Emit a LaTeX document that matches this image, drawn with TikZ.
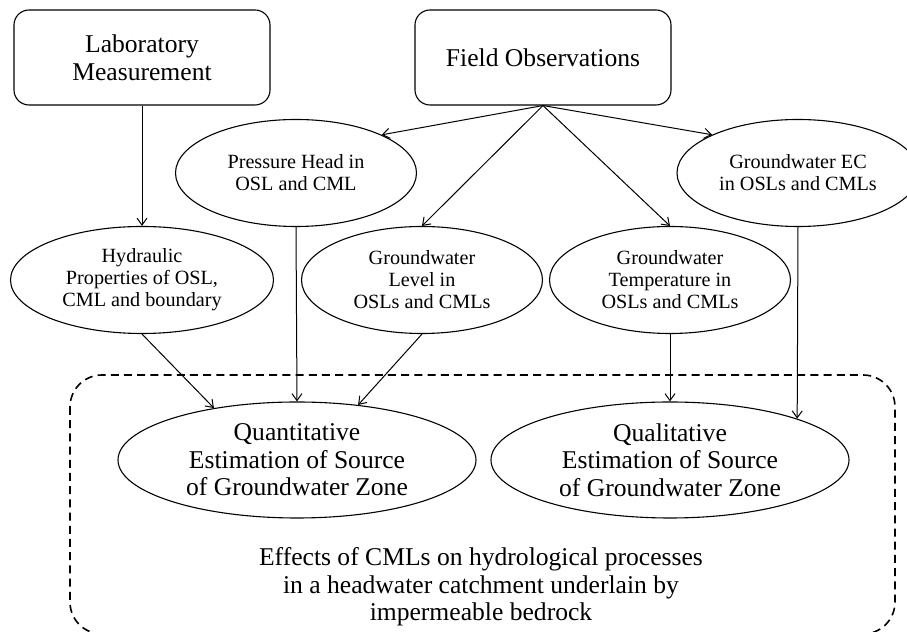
\documentclass[tikz,border=0pt]{standalone}
\usepackage{fontspec}
\setmainfont{Liberation Serif}
\usetikzlibrary{shapes.geometric,arrows.meta}

\begin{document}
\begin{tikzpicture}[x=0.5pt,y=0.5pt,
    box/.style={shape=rectangle,rounded corners=7.5pt,draw=black,line width=0.55pt,
      minimum width=128pt,minimum height=47.5pt,align=center,
      font=\fontsize{12.8}{13.75}\selectfont},
    oval/.style={shape=ellipse,draw=black,line width=0.55pt,inner sep=0pt,align=center,
      minimum width=120.5pt,minimum height=53.5pt,font=\fontsize{10.1}{11}\selectfont},
    bigoval/.style={oval,minimum width=179pt,minimum height=58pt,
      font=\fontsize{12.8}{13.75}\selectfont},
    link/.style={-{Straight Barb[length=3.5pt,width=5pt]},line width=0.5pt}]
    \clip (0,0) rectangle (907,632);

    % outer frame
    \draw[dashed,line width=0.8pt,dash pattern=on 4pt off 2.6pt,rounded corners=16pt]
        (70,257) rectangle (895,-2);

    \node[box] (lab) at (142,574.5) {Laboratory\\Measurement};
    \node[box] (field) at (543,574.5) {Field Observations};

    \node[oval] (ph) at (296,459) {Pressure Head in\\OSL and CML};
    \node[oval,minimum width=121pt] (ec) at (798,459) {Groundwater EC\\in OSLs and CMLs};
    \node[oval,minimum width=131.5pt] (hyd) at (142,352) {Hydraulic\\Properties of OSL,\\CML and boundary};
    \node[oval] (gl) at (422,352) {Groundwater\\Level in\\OSLs and CMLs};
    \node[oval] (gt) at (670,352) {Groundwater\\Temperature in\\OSLs and CMLs};

    \node[bigoval] (quant) at (297,172) {Quantitative\\Estimation of Source\\of Groundwater Zone};
    \node[bigoval] (qual) at (670,172) {Qualitative\\Estimation of Source\\of Groundwater Zone};

    \node[align=center,font=\fontsize{12.8}{13.75}\selectfont] (effects) at (481,45)
        {Effects of CMLs on hydrological processes\\in a headwater catchment underlain by\\impermeable bedrock};

    \draw[link] (lab) -- (hyd);
    \draw[link] (field.south) -- (ph.24);
    \draw[link] (field.south) -- (gl.north);
    \draw[link] (field.south) -- (gt.north);
    \draw[link] (field.south) -- (ec.156);

    \draw[link] (hyd.south) -- (quant.148);
    \draw[link] (ph.south) -- (quant.north);
    \draw[link] (gl.south) -- (quant.42);
    \draw[link] (gt.south) -- (qual.north);
    \draw[link] (ec.south) -- (qual.18);
\end{tikzpicture}
\end{document}
